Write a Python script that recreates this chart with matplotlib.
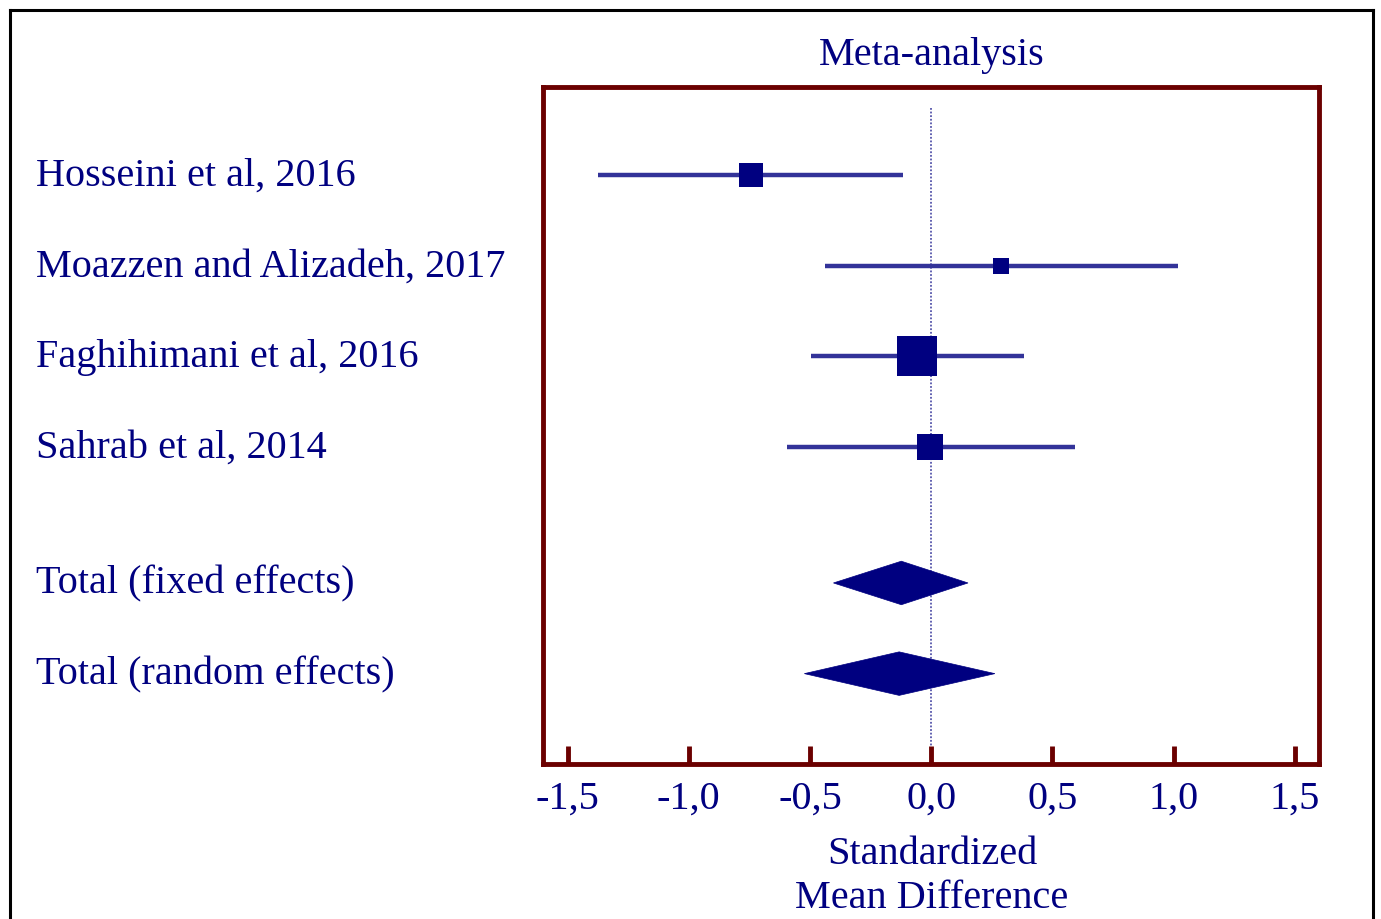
import matplotlib
matplotlib.use("Agg")
import matplotlib.pyplot as plt
from matplotlib.lines import Line2D
from matplotlib.patches import Polygon
from matplotlib.transforms import blended_transform_factory
import numpy as np

# Study-level standardized mean differences with 95% CI
studies = ["Hosseini et al, 2016", "Moazzen and Alizadeh, 2017",
           "Faghihimani et al, 2016", "Sahrab et al, 2014"]
smd = [-0.745, 0.29, -0.06, -0.004]
ci_low = [-1.375, -0.436, -0.494, -0.593]
ci_high = [-0.115, 1.02, 0.383, 0.593]
weights = [17.3, 8.4, 52.2, 22.1]   # % weight, box area proportional

# Pooled estimates
pooled_labels = ["Total (fixed effects)", "Total (random effects)"]
pooled_smd = [-0.123, -0.132]
pooled_low = [-0.403, -0.523]
pooled_high = [0.152, 0.263]

tick_values = [-1.5, -1.0, -0.5, 0.0, 0.5, 1.0, 1.5]
tick_labels = ["-1,5", "-1,0", "-0,5", "0,0", "0,5", "1,0", "1,5"]

NAVY = "#000080"
LINE = "#333399"
FRAME = "#6B0000"
FONT = "Liberation Serif"
FS = 29

W, H = 1381, 919
fig = plt.figure(figsize=(W / 100, H / 100), dpi=100)
ax = fig.add_axes([543.3 / W, 1 - 764.3 / H, (1319 - 543.3) / W, (764.3 - 87) / H])

ax.set_xlim(-1.6, 1.6)
ax.set_ylim(6.5, -0.97)

study_rows = [0, 1, 2, 3]
pooled_rows = [4.5, 5.5]

# reference line at zero
ax.plot([0, 0], [-0.74, 6.5], color="#5555aa", lw=1.3, ls=(0, (1, 1)), zorder=1)

# confidence intervals and weighted boxes
max_side = 40.0
for y, m, lo, hi, w in zip(study_rows, smd, ci_low, ci_high, weights):
    ax.plot([lo, hi], [y, y], color=LINE, lw=3.2, solid_capstyle="butt", zorder=2)
    side_px = max_side * np.sqrt(w / max(weights))
    ax.plot([m], [y], marker="s", ms=side_px * 0.72, color=NAVY,
            markeredgewidth=0, zorder=3)

# pooled diamonds
half_h = 0.24
for y, m, lo, hi in zip(pooled_rows, pooled_smd, pooled_low, pooled_high):
    diamond = Polygon([[lo, y], [m, y - half_h], [hi, y], [m, y + half_h]],
                      closed=True, facecolor=NAVY, edgecolor=NAVY, lw=0.5, zorder=3)
    ax.add_patch(diamond)

# row labels in the left margin
trans = blended_transform_factory(fig.transFigure, ax.transData)
for y, lab in zip(study_rows + pooled_rows, studies + pooled_labels):
    ax.text(36 / W, y + 0.015, lab, transform=trans, ha="left", va="center",
            fontsize=FS, family=FONT, color=NAVY, clip_on=False)

# frame: dark red box, ticks pointing inward from the bottom
for s in ax.spines.values():
    s.set_color(FRAME)
    s.set_linewidth(3.5)
ax.set_yticks([])
ax.set_xticks(tick_values)
ax.set_xticklabels(tick_labels, family=FONT, fontsize=FS, color=NAVY)
ax.tick_params(axis="x", direction="in", length=13, width=3.5, color=FRAME, pad=12)

fig.text(932 / W, 1 - 56 / H, "Meta-analysis", ha="center", va="center",
         family=FONT, fontsize=FS, color=NAVY)
fig.text(932 / W, 1 - 855 / H, "Standardized", ha="center", va="center",
         family=FONT, fontsize=FS, color=NAVY)
fig.text(932 / W, 1 - 898 / H, "Mean Difference", ha="center", va="center",
         family=FONT, fontsize=FS, color=NAVY)

# outer black border (open at the bottom)
border = [([9.5, 9.5], [H + 10, 9.5]), ([9.5, 1372.5], [9.5, 9.5]),
          ([1372.5, 1372.5], [9.5, H + 10])]
for xs, ys in border:
    fig.add_artist(Line2D([x / W for x in xs], [1 - v / H for v in ys],
                          transform=fig.transFigure, color="black", lw=2.2))

fig.savefig("out.png", dpi=100)
